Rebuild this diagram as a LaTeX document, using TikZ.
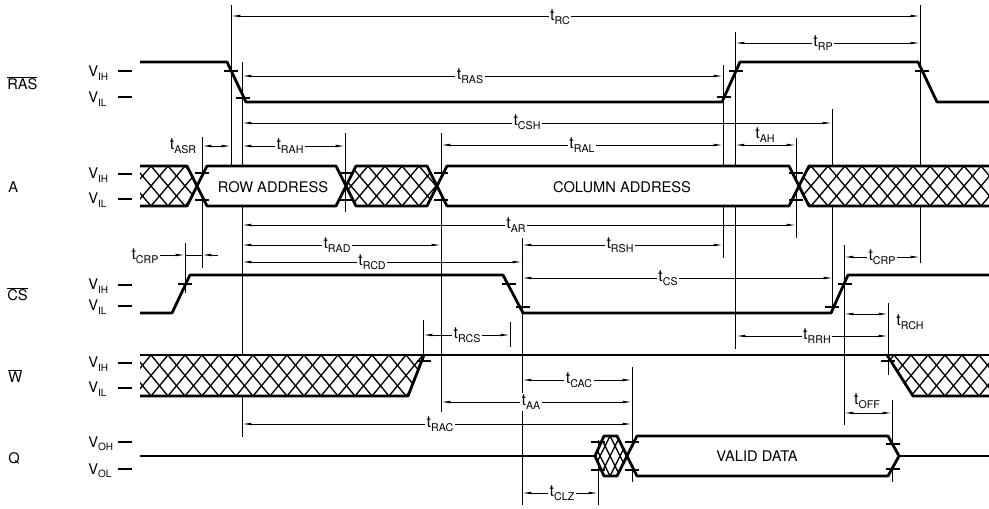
\documentclass[tikz,border=0pt]{standalone}
\usepackage{fontspec}
\setmainfont{TeX Gyre Heros}
\usetikzlibrary{arrows.meta}
\newcommand{\tlab}[1]{t\raisebox{-0.45ex}{\fontsize{8}{9}\selectfont #1}}
\newcommand{\vlab}[1]{V\raisebox{-0.45ex}{\fontsize{7.5}{9}\selectfont #1}}
% #1 clip path, #2 top y, #3 height, #4 horizontal span of one hatch line, #5 first x, #6 second x, #7 last x
\newcommand{\hatchin}[7]{%
  \begin{scope}
    \clip #1;
    \foreach \xx in {#5,#6,...,#7}{%
      \draw[hatchl] (\xx,#2) -- ++(#4,#3);
      \draw[hatchl] (\xx,#2) -- ++(-#4,#3);
    }
  \end{scope}}
\begin{document}
\begin{tikzpicture}[x=0.75pt,y=-0.75pt,
  guide/.style={line width=0.6pt},
  dim/.style={line width=0.6pt,{Latex[length=7pt,width=2pt]}-{Latex[length=7pt,width=2pt]}},
  sig/.style={line width=2.1pt,line join=round},
  hatchl/.style={line width=1pt},
  tickm/.style={line width=1pt},
  tlbl/.style={fill=white,inner sep=1.2pt,font=\fontsize{12}{14}\selectfont},
  vlbl/.style={anchor=west,inner sep=0pt,font=\fontsize{11}{13}\selectfont},
  nlbl/.style={anchor=west,inner sep=0pt,font=\fontsize{11}{13}\selectfont},
  boxlbl/.style={inner sep=0pt,font=\fontsize{11}{13}\selectfont}]

\useasboundingbox[fill=white] (0,0) rectangle (989,509);

% ---------- vertical guide lines ----------
\foreach \x/\a/\b in {231/5/166, 242/62/437, 202/137/268, 185/243/293,
  345/133/212, 441/133/412, 423/320/362, 510/322/347, 522/238/505,
  598/440/505, 632/367/482, 723/65/258, 735/32/349, 796/138/238,
  832/109/313, 844/245/425, 888/303/375, 892/400/482, 920/5/263}
  \draw[guide] (\x,\a) -- (\x,\b);

% ---------- dimension lines ----------
\foreach \a/\b/\y in {231/920/16, 735/920/43, 242/723/76, 242/832/123,
  202/231/146, 242/345/146, 441/723/145, 735/796/145, 242/796/225,
  242/441/245, 522/723/245, 242/522/262, 844/920/257, 522/833/278,
  423/510/335, 736/888/336, 844/888/314, 522/632/380, 441/632/402,
  242/632/424, 844/892/413, 522/598/493}
  \draw[dim] (\a,\y) -- (\b,\y);
% t_CRP (left) with outside arrows
\draw[guide,-{Latex[length=7pt,width=2pt]}] (160,255) -- (185,255);
\draw[guide] (185,255) -- (202,255);
\draw[guide,-{Latex[length=7pt,width=2pt]}] (218,255) -- (202,255);

% ---------- timing labels ----------
\node[tlbl] (lrc)  at (560,17)  {\tlab{RC}};
\node[tlbl] (lrp)  at (823,43)  {\tlab{RP}};
\node[tlbl] (lras) at (470,76)  {\tlab{RAS}};
\node[tlbl] (lcsh) at (527,122) {\tlab{CSH}};
\node[tlbl] (lasr) at (183,146) {\tlab{ASR}};
\node[tlbl] (lrah) at (290,146) {\tlab{RAH}};
\node[tlbl] (lral) at (582,145) {\tlab{RAL}};
\node[tlbl] (lah)  at (765,135) {\tlab{AH}};
\node[tlbl] (lar)  at (516,225) {\tlab{AR}};
\node[tlbl] (lrad) at (337,245) {\tlab{RAD}};
\node[tlbl] (lrsh) at (620,245) {\tlab{RSH}};
\node[tlbl] (lrcd) at (372,262) {\tlab{RCD}};
\node[tlbl] (lcrp1) at (145,256) {\tlab{CRP}};
\node[tlbl] (lcrp2) at (882,257) {\tlab{CRP}};
\node[tlbl] (lcs)  at (668,278) {\tlab{CS}};
\node[tlbl] (lrcs) at (467,335) {\tlab{RCS}};
\node[tlbl] (lrrh) at (817,336) {\tlab{RRH}};
\node[tlbl] (lrch) at (910,322) {\tlab{RCH}};
\node[tlbl] (lcac) at (579,380) {\tlab{CAC}};
\node[tlbl] (laa)  at (531,402) {\tlab{AA}};
\node[tlbl] (lrac) at (440,424) {\tlab{RAC}};
\node[tlbl] (loff) at (867,401) {\tlab{OFF}};
\node[tlbl] (lclz) at (562,493) {\tlab{CLZ}};

% ---------- signal names and levels ----------
\node[nlbl] (nras) at (7,83)  {$\overline{\hbox{RAS}}$};
\node[nlbl] (na)   at (8,187) {A};
\node[nlbl] (ncs)  at (7,294) {$\overline{\hbox{CS}}$};
\node[nlbl] (nw)   at (8,376) {$\overline{\hbox{W}}$};
\node[nlbl] (nq)   at (8,458) {Q};

\node[vlbl] (v1h) at (88,73)  {\vlab{IH}};
\node[vlbl] (v1l) at (88,99)  {\vlab{IL}};
\node[vlbl] (v2h) at (88,175) {\vlab{IH}};
\node[vlbl] (v2l) at (88,200) {\vlab{IL}};
\node[vlbl] (v3h) at (88,286) {\vlab{IH}};
\node[vlbl] (v3l) at (88,307) {\vlab{IL}};
\node[vlbl] (v4h) at (88,364) {\vlab{IH}};
\node[vlbl] (v4l) at (88,389) {\vlab{IL}};
\node[vlbl] (v5h) at (88,444) {\vlab{OH}};
\node[vlbl] (v5l) at (88,471) {\vlab{OL}};
\foreach \y in {71,97,174,199,285,306,363,388,442,469}
  \draw[line width=1pt] (118,\y) -- (132,\y);

% ---------- RAS ----------
\draw[sig] (140,62) -- (227,62) -- (246,102) -- (722,102) -- (740,62)
  -- (918,62) -- (937,102) -- (989,102);

% ---------- A ----------
\fill[white] (140,166) -- (187,166) -- (197,186) -- (187,206) -- (140,206) -- cycle;
\hatchin{(140,166) -- (187,166) -- (197,186) -- (187,206) -- (140,206) -- cycle}{166}{40}{34}{100}{117}{240}
\draw[sig] (140,166) -- (187,166) -- (197,186) -- (187,206) -- (140,206);

\draw[sig,fill=white] (207,166) -- (336,166) -- (346,186) -- (336,206) -- (207,206) -- (197,186) -- cycle;
\node[boxlbl] (rowa) at (273,187) {ROW ADDRESS};

\fill[white] (356,166) -- (427,166) -- (437,186) -- (427,206) -- (356,206) -- (346,186) -- cycle;
\hatchin{(356,166) -- (427,166) -- (437,186) -- (427,206) -- (356,206) -- (346,186) -- cycle}{166}{40}{34}{300}{317}{480}
\draw[sig] (356,166) -- (427,166) -- (437,186) -- (427,206) -- (356,206) -- (346,186) -- cycle;

\draw[sig,fill=white] (447,166) -- (789,166) -- (799,186) -- (789,206) -- (447,206) -- (437,186) -- cycle;
\node[boxlbl] (cola) at (622,187) {COLUMN ADDRESS};

\fill[white] (809,166) -- (989,166) -- (989,206) -- (809,206) -- (799,186) -- cycle;
\hatchin{(809,166) -- (989,166) -- (989,206) -- (809,206) -- (799,186) -- cycle}{166}{40}{34}{760}{777}{1040}
\draw[sig] (989,166) -- (809,166) -- (799,186) -- (809,206) -- (989,206);

% ---------- CS ----------
\draw[sig] (140,313) -- (172,313) -- (190,275) -- (503,275) -- (523,313)
  -- (831,313) -- (848,275) -- (989,275);

% ---------- W ----------
\fill[white] (140,355) -- (424,355) -- (408,396) -- (140,396) -- cycle;
\hatchin{(140,355) -- (424,355) -- (408,396) -- (140,396) -- cycle}{355}{41}{34}{100}{117}{470}
\fill[white] (887,355) -- (989,355) -- (989,396) -- (913,396) -- cycle;
\hatchin{(887,355) -- (989,355) -- (989,396) -- (913,396) -- cycle}{355}{41}{34}{860}{877}{1040}
\draw[sig] (140,355) -- (989,355);
\draw[sig] (140,396) -- (408,396) -- (424,355);
\draw[sig] (887,355) -- (913,396) -- (989,396);

% ---------- Q ----------
\draw[sig] (140,456) -- (595,456);
\fill[white] (595,456) -- (604,436) -- (617,436) -- (627,456) -- (617,476) -- (604,476) -- cycle;
\hatchin{(595,456) -- (604,436) -- (617,436) -- (627,456) -- (617,476) -- (604,476) -- cycle}{436}{40}{20}{580}{590}{650}
\draw[sig] (595,456) -- (604,436) -- (617,436) -- (627,456) -- (617,476) -- (604,476) -- cycle;
\draw[sig,fill=white] (627,456) -- (637,436) -- (888,436) -- (899,456) -- (888,476) -- (637,476) -- cycle;
\node[boxlbl] (vdata) at (757,456) {VALID DATA};
\draw[sig] (899,456) -- (989,456);

% ---------- level ticks ----------
\foreach \x/\y in {231/71, 243/98, 724/97, 736/71, 922/71,
  202/173, 202/200, 345/173, 345/200, 441/173, 441/200, 796/173, 796/200,
  185/284, 509/284, 523/307, 832/307, 845/284,
  424/361, 888/361,
  598/442, 598/470, 632/442, 632/470, 893/444, 893/469}
  \draw[tickm] ({\x-7},\y) -- ({\x+7},\y);
\end{tikzpicture}
\end{document}
